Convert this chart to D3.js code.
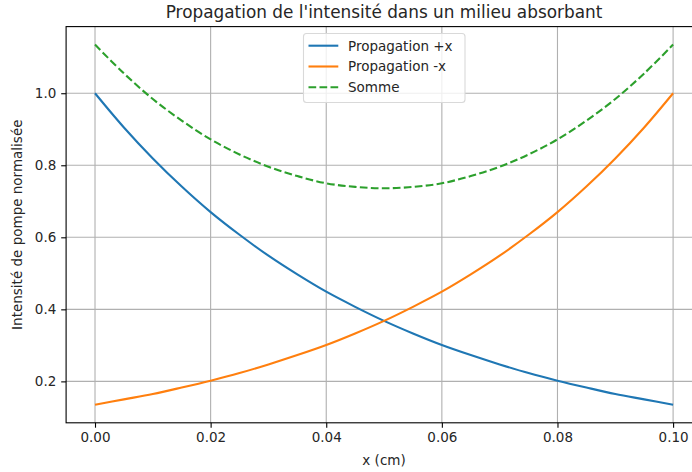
<!DOCTYPE html>
<html><head><meta charset="utf-8">
<script src="https://cdn.jsdelivr.net/npm/d3@7"></script>
<style>
html,body{margin:0;padding:0;background:#fff;overflow:hidden}
svg text{font-family:"DejaVu Sans",sans-serif;fill:#262626}
</style></head><body>
<svg id="c" width="692" height="472"></svg>
<script>
// Data
const xs = [0,0.005,0.01,0.015,0.02,0.025,0.03,0.035,0.04,0.045,0.05,0.055,0.06,0.065,0.07,0.075,0.08,0.085,0.09,0.095,0.1];
const propPlus = [1.000,0.905,0.819,0.741,0.670,0.607,0.549,0.497,0.449,0.407,0.368,0.333,0.301,0.273,0.247,0.223,0.202,0.183,0.165,0.150,0.135];
const propMinus = [0.135,0.150,0.165,0.183,0.202,0.223,0.247,0.273,0.301,0.333,0.368,0.407,0.449,0.497,0.549,0.607,0.670,0.741,0.819,0.905,1.000];
const somme = [1.135,1.055,0.984,0.924,0.872,0.830,0.796,0.770,0.750,0.740,0.736,0.740,0.750,0.770,0.796,0.830,0.872,0.924,0.984,1.055,1.135];
const xTicks = [0,0.02,0.04,0.06,0.08,0.1];
const yTicks = [0.2,0.4,0.6,0.8,1.0];
const seriesNames = ["Propagation +x","Propagation -x","Somme"];
const seriesColors = ["#1f77b4","#ff7f0e","#2ca02c"];

const L = 66.1, R = 702, T = 26.6, B = 422.8;
const svg = d3.select("#c");
const x = d3.scaleLinear().domain([-0.005,0.105]).range([L,R]);
const y = d3.scaleLinear().domain([0.085,1.185]).range([B,T]);

// grid
const g = svg.append("g");
g.selectAll(".gx").data(xTicks).join("line")
  .attr("x1",d=>x(d)).attr("x2",d=>x(d)).attr("y1",T).attr("y2",B)
  .attr("stroke","#b0b0b0").attr("stroke-width",1.1);
g.selectAll(".gy").data(yTicks).join("line")
  .attr("y1",d=>y(d)).attr("y2",d=>y(d)).attr("x1",L).attr("x2",R)
  .attr("stroke","#b0b0b0").attr("stroke-width",1.1);

// lines
const series = [propPlus, propMinus, somme];
const line = d3.line().x((d,i)=>x(xs[i])).y(d=>y(d)).curve(d3.curveCatmullRom);
series.forEach((s,k)=>{
  svg.append("path").attr("d",line(s)).attr("fill","none")
    .attr("stroke",seriesColors[k]).attr("stroke-width",2.1)
    .attr("stroke-dasharray",k===2?"7.7,3.3":null);
});

// axes
const xa = svg.append("g").attr("transform",`translate(0,${B})`)
  .call(d3.axisBottom(x).tickValues(xTicks).tickFormat(d3.format(".2f")).tickSize(4.9).tickPadding(4.9).tickSizeOuter(0));
const ya = svg.append("g").attr("transform",`translate(${L},0)`)
  .call(d3.axisLeft(y).tickValues(yTicks).tickFormat(d3.format(".1f")).tickSize(4.9).tickPadding(4.9).tickSizeOuter(0));
[xa,ya].forEach(a=>{
  a.select(".domain").remove();
  a.selectAll("line").attr("stroke","#000").attr("stroke-width",1.1);
  a.selectAll("text").attr("font-size","13.5px").attr("font-family","DejaVu Sans").attr("fill","#262626");
});
// spines
svg.append("rect").attr("x",L).attr("y",T).attr("width",R-L).attr("height",B-T)
  .attr("fill","none").attr("stroke","#000").attr("stroke-width",1.1);

// labels
svg.append("text").attr("x",(L+R)/2).attr("y",18.3).attr("text-anchor","middle")
  .attr("font-size","16.9px").text("Propagation de l'intensité dans un milieu absorbant");
svg.append("text").attr("x",(L+R)/2).attr("y",465).attr("text-anchor","middle")
  .attr("font-size","13.5px").text("x (cm)");
svg.append("text").attr("transform",`translate(22,${(T+B)/2}) rotate(-90)`).attr("text-anchor","middle")
  .attr("font-size","13.5px").text("Intensité de pompe normalisée");

// legend
const lg = svg.append("g");
lg.append("rect").attr("x",303.5).attr("y",33.5).attr("width",161.5).attr("height",69)
  .attr("rx",3).attr("fill","#fff").attr("fill-opacity",0.8).attr("stroke","#d9d9d9").attr("stroke-width",1.1);
seriesNames.forEach((n,k)=>{
  const yy = 45.7 + k*20.8;
  lg.append("line").attr("x1",308.5).attr("x2",338.3).attr("y1",yy).attr("y2",yy)
    .attr("stroke",seriesColors[k]).attr("stroke-width",2.1)
    .attr("stroke-dasharray",k===2?"7.7,3.3":null);
  lg.append("text").attr("x",348).attr("y",yy+4.8).attr("font-size","13.5px").text(n);
});
</script>
</body></html>
